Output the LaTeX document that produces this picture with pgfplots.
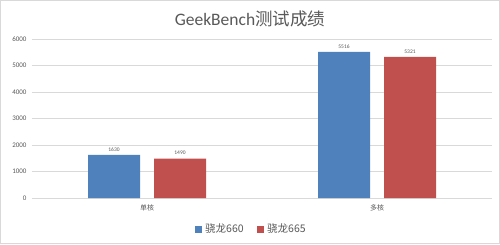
\documentclass[border=0pt]{standalone}
\usepackage{pgfplots}
\pgfplotsset{compat=1.18}
\usepackage{fontspec}
\setmainfont{Carlito}
\newfontfamily\cjk{Noto Sans CJK SC}
\definecolor{sblue}{HTML}{4F81BD}
\definecolor{sred}{HTML}{C0504D}
\definecolor{tgray}{HTML}{595959}
\definecolor{ggray}{HTML}{D9D9D9}
\begin{document}
\begin{tikzpicture}[x=1pt,y=1pt]
\fill[white] (0,0) rectangle (500,244);
\draw[ggray,line width=1.2pt] (0.6,0.6) rectangle (499.4,243.4);
\begin{axis}[
  at={(32pt,46pt)}, anchor=south west,
  width=460pt, height=159pt, scale only axis,
  xmin=-0.5, xmax=1.5, ymin=0, ymax=6000,
  ytick={0,1000,...,6000},
  xtick={0,1}, xticklabels={{\cjk 单核},{\cjk 多核}},
  axis line style={draw=none},
  major tick length=0pt,
  ymajorgrids, grid style={ggray, line width=0.6pt},
  tick label style={font=\fontsize{7}{8}\selectfont, text=tgray},
  yticklabel style={xshift=-2pt},
  xticklabel style={yshift=-3pt},
  /pgf/number format/assume math mode=true,
  scaled y ticks=false,
  yticklabel={\pgfmathprintnumber[fixed,1000 sep={}]{\tick}},
  clip=false,
]
\addplot[ybar, bar width=52pt, bar shift=-33pt, fill=sblue, draw=none,
  nodes near coords, every node near coord/.append style={xshift=-33pt, font=\fontsize{5.5}{6}\selectfont, text=tgray, /pgf/number format/1000 sep={}}]
  coordinates {(0,1630) (1,5516)};
\addplot[ybar, bar width=52pt, bar shift=33pt, fill=sred, draw=none,
  nodes near coords, every node near coord/.append style={xshift=33pt, font=\fontsize{5.5}{6}\selectfont, text=tgray, /pgf/number format/1000 sep={}}]
  coordinates {(0,1490) (1,5321)};
\end{axis}
\node[text=tgray, font=\fontsize{17.5}{19}\selectfont] at (250,225) {GeekBench{\cjk 测试成绩}};
\fill[sblue] (195,11.5) rectangle (202,18.5);
\node[anchor=west, text=tgray, font=\fontsize{10.5}{12}\selectfont\cjk, inner sep=0pt] at (205,15) {骁龙660};
\fill[sred] (257,11.5) rectangle (264,18.5);
\node[anchor=west, text=tgray, font=\fontsize{10.5}{12}\selectfont\cjk, inner sep=0pt] at (267,15) {骁龙665};
\end{tikzpicture}
\end{document}
